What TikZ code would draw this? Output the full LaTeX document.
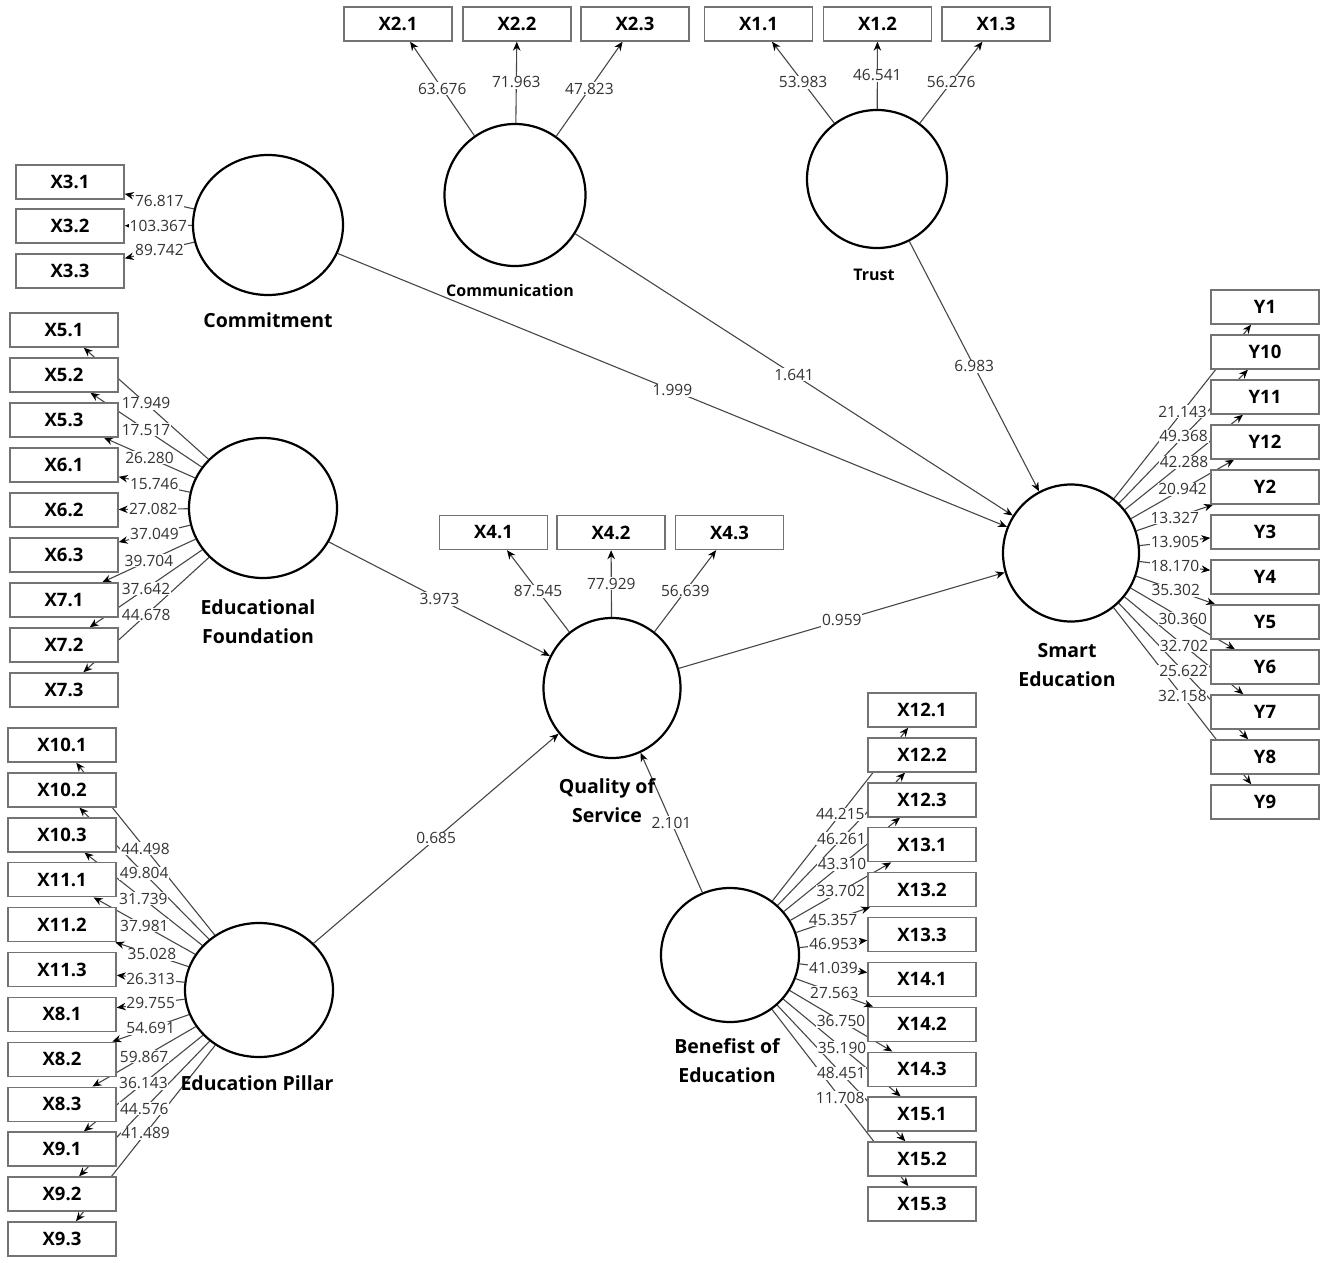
\documentclass[tikz,border=0pt]{standalone}
\usepackage{fontspec}
\setmainfont{Open Sans}
\usetikzlibrary{shapes.geometric,arrows.meta}
\pgfdeclarelayer{edges}
\pgfdeclarelayer{labs}
\pgfsetlayers{edges,labs,main}
\newcommand\lk[3]{%
  \begin{pgfonlayer}{edges}\draw[ar] (#1) -- (#2);\end{pgfonlayer}%
  \begin{pgfonlayer}{labs}\path (#1) -- node[lab]{#3} (#2);\end{pgfonlayer}}
\begin{document}
\begin{tikzpicture}[x=1pt,y=-1pt,
  ind/.style={draw=black!55, line width=1.4pt, fill=white, minimum width=108pt,
    minimum height=34pt, inner sep=0pt, font=\bfseries\fontsize{18.5}{19}\selectfont},
  lat/.style={ellipse, draw=black, line width=2.2pt, fill=white, inner sep=0pt},
  ar/.style={draw=black!72, line width=1.1pt, -{Stealth[length=9pt,width=7.5pt,black]}},
  lab/.style={fill=white, inner sep=0.8pt, text=black!80, font=\fontsize{15.5}{15.5}\selectfont},
  lname/.style={font=\bfseries\fontsize{19.5}{29}\selectfont, align=center, inner sep=0pt},
  sname/.style={font=\bfseries\fontsize{16}{20}\selectfont, inner sep=0pt}]
\useasboundingbox (0,0) rectangle (1325,1263);
% latent variables
\node[lat,minimum width=150pt,minimum height=140pt] (com) at (268,225) {};
\node[lat,minimum width=141pt,minimum height=142pt] (cmm) at (515,195) {};
\node[lat,minimum width=140pt,minimum height=138pt] (tru) at (877,179) {};
\node[lat,minimum width=148pt,minimum height=140pt] (ef) at (263,508) {};
\node[lat,minimum width=137pt,minimum height=140pt] (qos) at (612,688) {};
\node[lat,minimum width=136pt,minimum height=137pt] (smt) at (1071,553) {};
\node[lat,minimum width=138pt,minimum height=134pt] (ben) at (730,955) {};
\node[lat,minimum width=148pt,minimum height=134pt] (ep) at (259,990) {};
% latent names
\node[lname] (comL) at (268,320) {Commitment};
\node[sname] (cmmL) at (510,290) {Communication};
\node[sname] (truL) at (874,275) {Trust};
\node[lname] (efL) at (258,622) {Educational\\Foundation};
\node[lname] (qosL) at (607,801) {Quality of\\Service};
\node[lname] (smtL) at (1067,665) {Smart\\Education};
\node[lname] (benL) at (727,1061) {Benefist of\\Education};
\node[lname] (epL) at (257,1083) {Education Pillar};
% indicators
\node[ind] (x21) at (398,24) {X2.1};
\node[ind] (x22) at (517,24) {X2.2};
\node[ind] (x23) at (635,24) {X2.3};
\node[ind] (x11) at (758.5,24) {X1.1};
\node[ind] (x12) at (877.5,24) {X1.2};
\node[ind] (x13) at (996,24) {X1.3};
\node[ind] (x31) at (70,182) {X3.1};
\node[ind] (x32) at (70,226) {X3.2};
\node[ind] (x33) at (70,271) {X3.3};
\node[ind] (x41) at (493.5,532.5) {X4.1};
\node[ind] (x42) at (611,532.5) {X4.2};
\node[ind] (x43) at (729.5,532.5) {X4.3};
\foreach \nm/\t [count=\i from 0] in {x51/X5.1,x52/X5.2,x53/X5.3,x61/X6.1,x62/X6.2,x63/X6.3,x71/X7.1,x72/X7.2,x73/X7.3}
  \node[ind] (\nm) at (64,330+45*\i) {\t};
\foreach \nm/\t [count=\i from 0] in {x101/X10.1,x102/X10.2,x103/X10.3,x111/X11.1,x112/X11.2,x113/X11.3,x81/X8.1,x82/X8.2,x83/X8.3,x91/X9.1,x92/X9.2,x93/X9.3}
  \node[ind] (\nm) at (62,745+44.9*\i) {\t};
\foreach \nm/\t [count=\i from 0] in {y1/Y1,y10/Y10,y11/Y11,y12/Y12,y2/Y2,y3/Y3,y4/Y4,y5/Y5,y6/Y6,y7/Y7,y8/Y8,y9/Y9}
  \node[ind] (\nm) at (1265,307+45*\i) {\t};
\foreach \nm/\t [count=\i from 0] in {x121/X12.1,x122/X12.2,x123/X12.3,x131/X13.1,x132/X13.2,x133/X13.3,x141/X14.1,x142/X14.2,x143/X14.3,x151/X15.1,x152/X15.2,x153/X15.3}
  \node[ind] (\nm) at (922,710+44.9*\i) {\t};
% outer loadings
\foreach \nm/\v in {x21/63.676,x22/71.963,x23/47.823} \lk{cmm}{\nm}{\v};
\foreach \nm/\v in {x11/53.983,x12/46.541,x13/56.276} \lk{tru}{\nm}{\v};
\foreach \nm/\v in {x31/76.817,x32/103.367,x33/89.742} \lk{com}{\nm}{\v};
\foreach \nm/\v in {x41/87.545,x42/77.929,x43/56.639} \lk{qos}{\nm}{\v};
\foreach \nm/\v in {x51/17.949,x52/17.517,x53/26.280,x61/15.746,x62/27.082,x63/37.049,x71/39.704,x72/37.642,x73/44.678} \lk{ef}{\nm}{\v};
\foreach \nm/\v in {x101/44.498,x102/49.804,x103/31.739,x111/37.981,x112/35.028,x113/26.313,x81/29.755,x82/54.691,x83/59.867,x91/36.143,x92/44.576,x93/41.489} \lk{ep}{\nm}{\v};
\foreach \nm/\v in {y1/21.143,y10/49.368,y11/42.288,y12/20.942,y2/13.327,y3/13.905,y4/18.170,y5/35.302,y6/30.360,y7/32.702,y8/25.622,y9/32.158} \lk{smt}{\nm}{\v};
\foreach \nm/\v in {x121/44.215,x122/46.261,x123/43.310,x131/33.702,x132/45.357,x133/46.953,x141/41.039,x142/27.563,x143/36.750,x151/35.190,x152/48.451,x153/11.708} \lk{ben}{\nm}{\v};
% structural paths
\lk{com}{smt}{1.999}
\lk{cmm}{smt}{1.641}
\lk{tru}{smt}{6.983}
\lk{ef}{qos}{3.973}
\lk{ep}{qos}{0.685}
\lk{ben}{qos}{2.101}
\lk{qos}{smt}{0.959}
\end{tikzpicture}
\end{document}
